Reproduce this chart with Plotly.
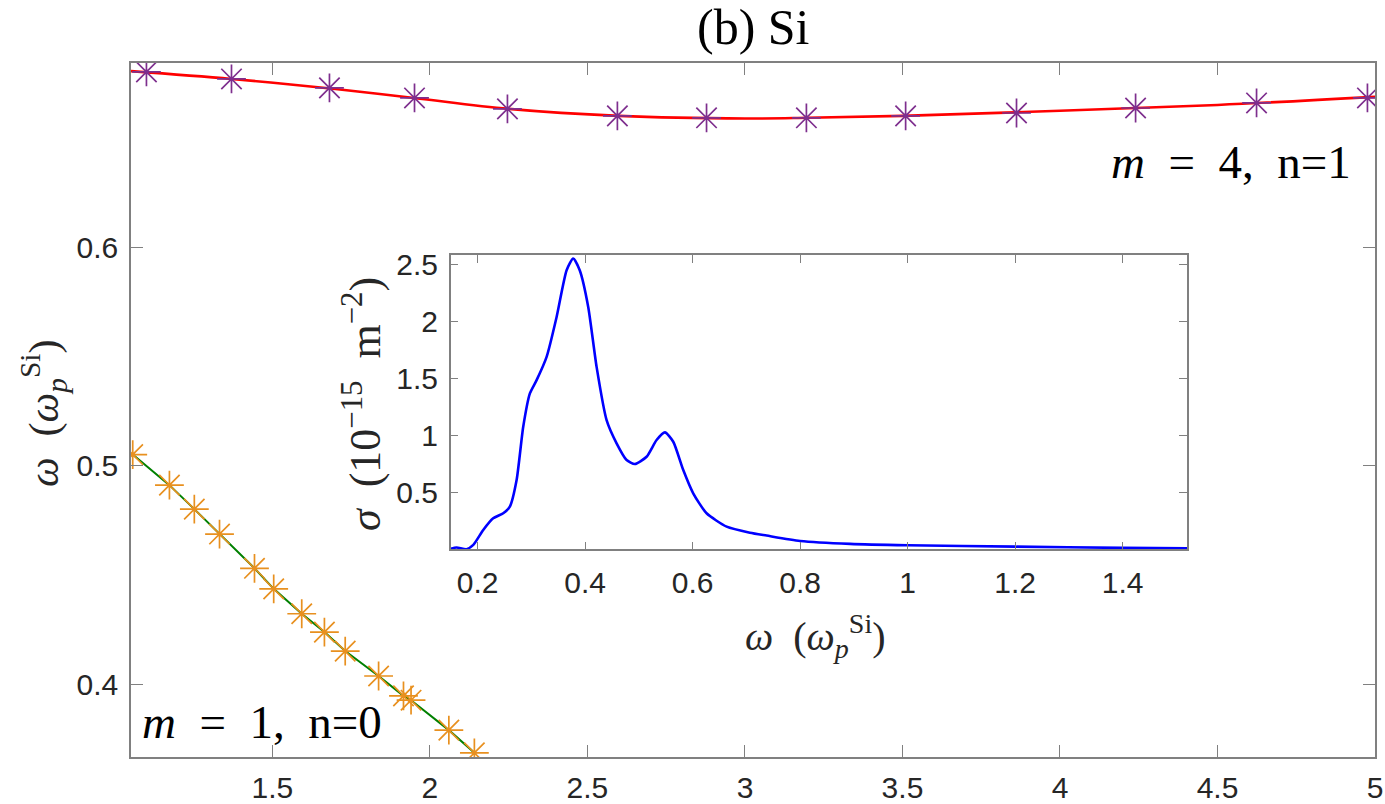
import plotly.graph_objects as go

# ---- data ----
# m = 4, n = 1 branch (purple markers, red curve)
m4_x = [1.100, 1.370, 1.681, 1.951, 2.246, 2.595, 2.878, 3.195, 3.510, 3.862, 4.240, 4.624, 4.976]
m4_y = [0.6804, 0.6772, 0.6731, 0.6685, 0.6635, 0.6603, 0.6594, 0.6594, 0.6603, 0.6616, 0.6639, 0.6662, 0.6685]
red_x = [1.051, 1.370, 1.700, 1.950, 2.250, 2.600, 3.000, 3.200, 3.500, 4.000, 4.500, 5.000]
red_y = [0.6808, 0.6772, 0.6726, 0.6685, 0.6635, 0.6603, 0.6591, 0.6594, 0.6603, 0.6626, 0.6653, 0.6690]

# m = 1, n = 0 branch (orange markers, green line)
m1_x = [1.0565, 1.173, 1.252, 1.332, 1.443, 1.504, 1.593, 1.665, 1.731, 1.837, 1.916, 1.940, 2.060, 2.141]
m1_y = [0.5052, 0.4912, 0.4802, 0.4688, 0.4531, 0.4437, 0.4323, 0.4239, 0.4152, 0.4038, 0.3947, 0.3927, 0.3790, 0.3686]

# inset: cross section sigma vs omega
sig_x = [0.150, 0.161, 0.1795, 0.192, 0.2105, 0.229, 0.2477, 0.260, 0.2726, 0.2849, 0.2973, 0.3098,
         0.3284, 0.347, 0.3656, 0.3779, 0.390, 0.4058, 0.4214, 0.440, 0.4586, 0.4772, 0.4926, 0.5144,
         0.533, 0.5485, 0.564, 0.5826, 0.6011, 0.626, 0.6633, 0.7066, 0.7377, 0.800, 0.893, 1.000,
         1.200, 1.400, 1.520]
sig_y = [0.010, 0.020, 0.006, 0.043, 0.174, 0.276, 0.320, 0.378, 0.611, 1.077, 1.369, 1.485,
         1.689, 2.038, 2.447, 2.549, 2.447, 2.126, 1.601, 1.135, 0.932, 0.786, 0.751, 0.815,
         0.961, 1.028, 0.946, 0.698, 0.495, 0.320, 0.203, 0.150, 0.125, 0.078, 0.052, 0.040,
         0.028, 0.017, 0.014]

main_xticks = [1.5, 2, 2.5, 3, 3.5, 4, 4.5, 5]
main_xlabels = ["1.5", "2", "2.5", "3", "3.5", "4", "4.5", "5"]
main_yticks = [0.4, 0.5, 0.6]
main_ylabels = ["0.4", "0.5", "0.6"]
ins_xticks = [0.2, 0.4, 0.6, 0.8, 1.0, 1.2, 1.4]
ins_xlabels = ["0.2", "0.4", "0.6", "0.8", "1", "1.2", "1.4"]
ins_yticks = [0.5, 1, 1.5, 2, 2.5]
ins_ylabels = ["0.5", "1", "1.5", "2", "2.5"]

# ---- styles ----
PURPLE = "#7E2F8E"
ORANGE = "#E8901F"
GREEN = "#008000"
RED = "#FF0000"
BLUE = "#0000FF"
AXC = "#808080"
TXT = "#262626"
SANS = "Liberation Sans, Arial, sans-serif"
SERIF = "Liberation Serif, Times New Roman, serif"
NB = "\u00a0"

fig = go.Figure()
fig.add_trace(go.Scatter(x=red_x, y=red_y, mode="lines", line=dict(color=RED, width=2.6, shape="spline"),
                         xaxis="x", yaxis="y", showlegend=False))
fig.add_trace(go.Scatter(x=m4_x, y=m4_y, mode="markers",
                         marker=dict(symbol="asterisk-open", size=24, color=PURPLE, line=dict(color=PURPLE, width=1.7)),
                         xaxis="x", yaxis="y", showlegend=False))
fig.add_trace(go.Scatter(x=m1_x, y=m1_y, mode="lines", line=dict(color=GREEN, width=2),
                         xaxis="x", yaxis="y", showlegend=False))
fig.add_trace(go.Scatter(x=m1_x, y=m1_y, mode="markers",
                         marker=dict(symbol="asterisk-open", size=24, color=ORANGE, line=dict(color=ORANGE, width=1.7)),
                         xaxis="x", yaxis="y", showlegend=False))
fig.add_trace(go.Scatter(x=sig_x, y=sig_y, mode="lines",
                         line=dict(color=BLUE, width=2.6, shape="spline", smoothing=0.6),
                         xaxis="x2", yaxis="y2", showlegend=False))

axis_common = dict(showline=True, linecolor=AXC, linewidth=1.5, mirror="ticks", ticks="inside",
                   tickcolor=AXC, tickwidth=1.2, showgrid=False, zeroline=False,
                   tickfont=dict(family=SANS, size=30, color=TXT))

fig.update_layout(
    width=1385, height=804,
    margin=dict(l=131, r=10, t=63, b=47, autoexpand=False),
    paper_bgcolor="white", plot_bgcolor="white",
    showlegend=False,
    xaxis=dict(axis_common, range=[1.051, 5.0], tickvals=main_xticks, ticktext=main_xlabels,
               ticklen=12, ticklabelstandoff=3, domain=[0, 1], anchor="y"),
    yaxis=dict(axis_common, range=[0.3667, 0.6845], tickvals=main_yticks, ticktext=main_ylabels,
               ticklen=12, ticklabelstandoff=5, domain=[0, 1], anchor="x"),
    xaxis2=dict(axis_common, range=[0.15, 1.52], tickvals=ins_xticks, ticktext=ins_xlabels,
                ticklen=8, ticklabelstandoff=6, domain=[0.257, 0.849], anchor="y2"),
    yaxis2=dict(axis_common, range=[0.005, 2.58], tickvals=ins_yticks, ticktext=ins_ylabels,
                ticklen=8, ticklabelstandoff=5, domain=[0.2993, 0.7233], anchor="x2"),
)

ann = []
# title
ann.append(dict(text="(b) Si", x=0.5, y=1.052, xref="paper", yref="paper", xanchor="center", yanchor="middle",
                showarrow=False, font=dict(family=SERIF, size=50, color="black")))
# branch labels
ann.append(dict(text="<i>m</i>" + NB * 2 + "=" + NB * 2 + "4," + NB * 2 + "n=1", x=4.929, y=0.6393,
                xref="x", yref="y", xanchor="right", yanchor="middle", showarrow=False,
                font=dict(family=SERIF, size=47, color="black")))
ann.append(dict(text="<i>m</i>" + NB * 2 + "=" + NB * 2 + "1," + NB * 2 + "n=0", x=1.078, y=0.3826,
                xref="x", yref="y", xanchor="left", yanchor="middle", showarrow=False,
                font=dict(family=SERIF, size=47, color="black")))
# axis titles
ann.append(dict(text="<i>ω</i>" + NB * 2 + "(<i>ω</i><sub><i>p</i></sub><sup>Si</sup>)", x=-0.0707, y=0.4957,
                xref="paper", yref="paper", xanchor="center", yanchor="middle", textangle=-90,
                showarrow=False, font=dict(family=SERIF, size=42, color=TXT)))
ann.append(dict(text="<i>σ</i>" + NB * 2 + "(10<sup>−15</sup>" + NB * 2 + "m<sup>−2</sup>)", x=0.1857, y=0.5086,
                xref="paper", yref="paper", xanchor="center", yanchor="middle", textangle=-90,
                showarrow=False, font=dict(family=SERIF, size=44, color=TXT)))
ann.append(dict(text="<i>ω</i>" + NB * 2 + "(<i>ω</i><sub><i>p</i></sub><sup>Si</sup>)", x=0.5506, y=0.1744,
                xref="paper", yref="paper", xanchor="center", yanchor="middle",
                showarrow=False, font=dict(family=SERIF, size=40, color=TXT)))
fig.update_layout(annotations=ann)

fig.write_html("out.html")
